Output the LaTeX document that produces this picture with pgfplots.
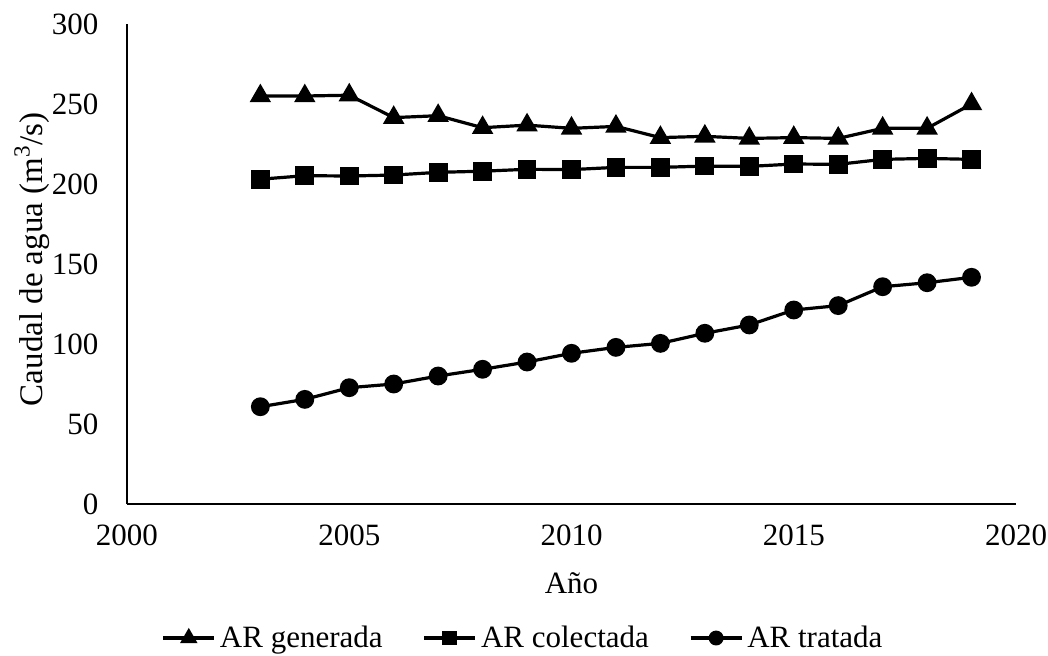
\documentclass[border=0pt]{standalone}
\usepackage{pgfplots}
\pgfplotsset{compat=1.18}
\usepackage{fontspec}
\setmainfont{Liberation Serif}
\begin{document}
\begin{tikzpicture}[font=\fontsize{15.5}{18}\selectfont]
\useasboundingbox (-63.5pt,-75.5pt) rectangle (460.5pt,252pt);
\begin{axis}[
  at={(0,0)}, anchor=south west,
  scale only axis, width=444.5pt, height=240pt,
  xmin=2000, xmax=2020, ymin=0, ymax=300,
  xtick={2000,2005,2010,2015,2020}, ytick={0,50,...,300},
  axis x line=bottom, axis y line=left,
  axis line style={-, line width=1pt, black},
  major tick length=0pt,
  /pgf/number format/assume math mode=true,
  /pgf/number format/set thousands separator={},
  xticklabel style={yshift=-6.8pt},
  yticklabel style={xshift=-10.8pt},
  xlabel={Año},
  xlabel style={at={(axis description cs:0.5,0)}, anchor=base, yshift=-44.5pt},
  ylabel={Caudal de agua (m\textsuperscript{3}/s)},
  ylabel style={at={(axis description cs:-0.0955,0.51)}, anchor=base, font=\fontsize{16.5}{19}\selectfont},
  legend columns=3,
  legend style={draw=none, at={(axis description cs:0.4466,0)}, anchor=center, yshift=-67pt,
    /tikz/every even column/.append style={column sep=18pt}, font=\fontsize{15.5}{18}\selectfont},
  legend cell align=left,
  legend image code/.code={\draw[mark repeat=2,mark phase=2,#1, every mark/.append style={scale=0.75}] plot coordinates {(0cm,0cm) (0.45cm,0cm) (0.9cm,0cm)};},
]
\addplot[black, line width=1.6pt, mark=triangle*, mark size=4.6pt, mark options={solid, fill=black}] coordinates {
(2003,255)(2004,255)(2005,255.5)(2006,241.5)(2007,242.7)(2008,235.2)(2009,236.8)(2010,234.8)
(2011,236)(2012,229)(2013,229.8)(2014,228.5)(2015,229)(2016,228.5)(2017,234.8)(2018,234.8)(2019,250)};
\addlegendentry{AR generada}
\addplot[black, line width=1.6pt, mark=square*, mark size=3.9pt, mark options={solid, fill=black}] coordinates {
(2003,203)(2004,205.2)(2005,205)(2006,205.6)(2007,207.3)(2008,208)(2009,209.2)(2010,209)
(2011,210.4)(2012,210.4)(2013,211.2)(2014,211)(2015,212.5)(2016,212.3)(2017,215.4)(2018,216)(2019,215.4)};
\addlegendentry{AR colectada}
\addplot[black, line width=1.6pt, mark=*, mark size=3.9pt, mark options={solid, fill=black}] coordinates {
(2003,60.8)(2004,65.4)(2005,72.7)(2006,75)(2007,80)(2008,84.2)(2009,88.75)(2010,94.2)
(2011,97.9)(2012,100.4)(2013,106.7)(2014,111.9)(2015,121.25)(2016,124)(2017,135.8)(2018,138.3)(2019,141.7)};
\addlegendentry{AR tratada}
\end{axis}
\end{tikzpicture}
\end{document}
